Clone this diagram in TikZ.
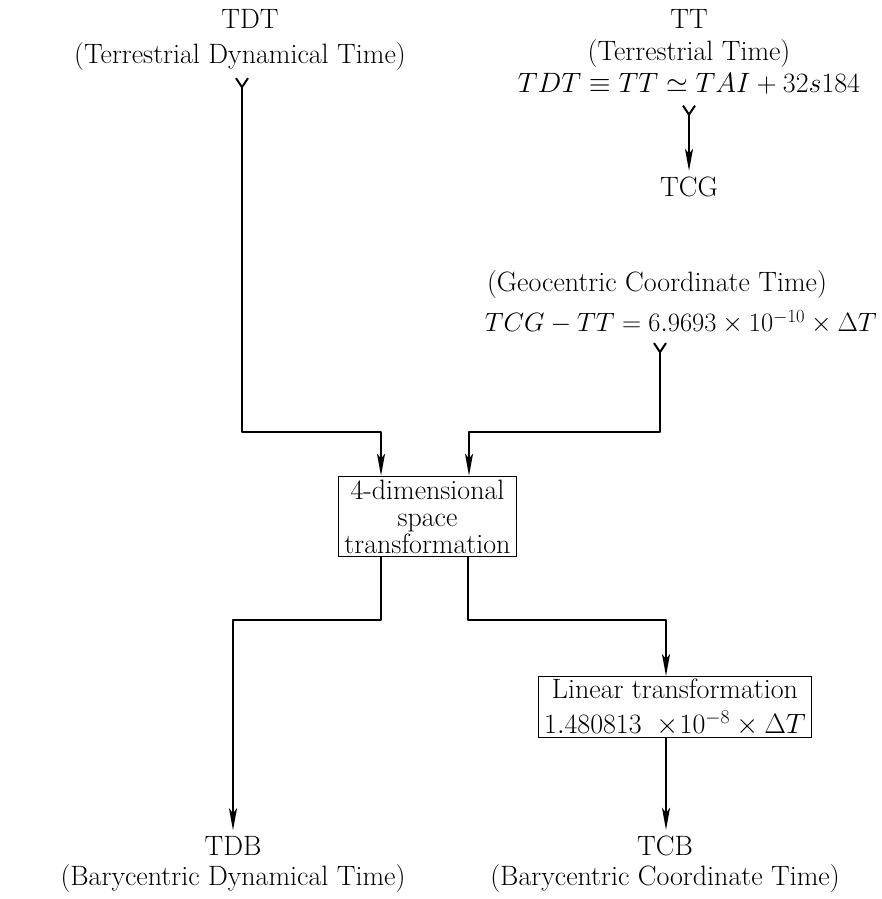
\RequirePackage{fix-cm}
\documentclass[tikz,border=0pt]{standalone}
\usetikzlibrary{arrows.meta}
\begin{document}
\begin{tikzpicture}[x=1pt,y=-1pt,
  txt/.style={inner sep=0pt,font=\fontsize{28}{23}\selectfont},
  boxn/.style={draw,line width=1pt,inner xsep=6pt,inner ysep=3.5pt,align=center,font=\fontsize{28}{27}\selectfont},
  conn/.style={line width=2.2pt,line join=round},
  tipend/.style={-{Stealth[length=22pt,width=8pt,inset=5pt]}},
  forktip/.style={{Straight Barb[reversed,length=9pt,width=12pt,line width=2pt]}-{Stealth[length=22pt,width=8pt,inset=5pt]}}
]
\useasboundingbox (0,0) rectangle (881,899);
% top left
\node[txt] (tdt) at (250,19) {TDT};
\node[txt] (tdtl) at (240,57) {(Terrestrial Dynamical Time)};
% top right
\node[txt] (tt) at (689,19) {TT};
\node[txt] (ttl) at (689,54) {(Terrestrial Time)};
\node[txt] (tteq) at (689,84) {$TDT \equiv TT \simeq TAI + 32s184$};
\node[txt] (tcg) at (689,187) {TCG};
\node[txt] (tcgl) at (657,285) {(Geocentric Coordinate Time)};
\node[txt,anchor=east,font=\fontsize{26.5}{23}\selectfont] (tcgeq) at (877,322) {$TCG - TT = 6.9693 \times 10^{-10} \times \Delta T$};
% boxes
\node[boxn] (box4) at (427.5,516.5) {4-dimensional\\space\\transformation};
\node[boxn,inner ysep=2pt,font=\fontsize{28}{35}\selectfont] (lin) at (675,707) {Linear transformation\\$1.480813\ \times\!10^{-8} \times \Delta T$};
% bottom
\node[txt] (tdb) at (233,846) {TDB};
\node[txt] (tdbl) at (233,879) {(Barycentric Dynamical Time)};
\node[txt] (tcb) at (665,846) {TCB};
\node[txt] (tcbl) at (665,879) {(Barycentric Coordinate Time)};
% coordinates
\coordinate (c1) at (242,432);
\coordinate (c2) at (381,432);
\coordinate (c3) at (660,432);
\coordinate (c4) at (469,432);
\coordinate (d1) at (381,620);
\coordinate (d2) at (233,620);
\coordinate (d3) at (468,620);
\coordinate (d4) at (666,620);
% connectors
\draw[conn,forktip] ([yshift=-6pt]tdtl.south -| c1) -- (c1) -- (c2) -- (box4.north -| c2);
\draw[conn,forktip] ([yshift=-10pt]tteq.south) -- ([yshift=6pt]tcg.north);
\draw[conn,forktip] ([yshift=-8pt]tcgeq.south -| c3) -- (c3) -- (c4) -- (box4.north -| c4);
\draw[conn,tipend] (box4.south -| d1) -- (d1) -- (d2) -- ([yshift=6pt]tdb.north -| d2);
\draw[conn,tipend] (box4.south -| d3) -- (d3) -- (d4) -- (lin.north -| d4);
\draw[conn,tipend] (lin.south -| d4) -- ([yshift=6pt]tcb.north -| d4);
\end{tikzpicture}
\end{document}
